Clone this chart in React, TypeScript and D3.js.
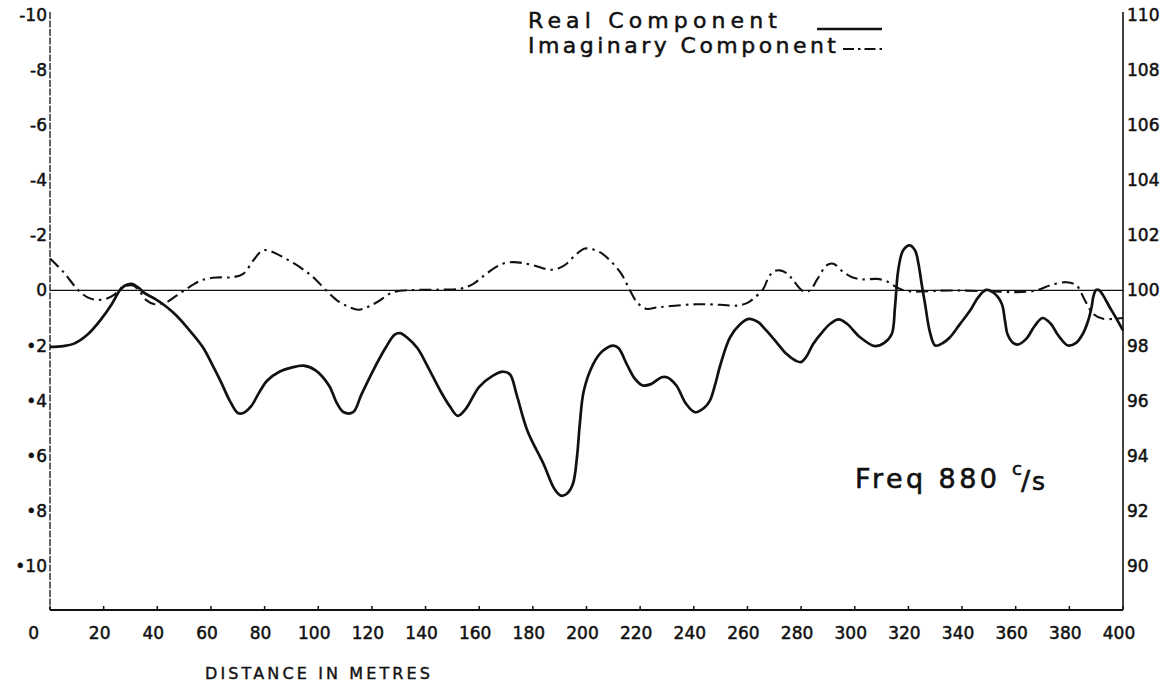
import React from "react";
import * as d3 from "d3";

const W = 1162;
const H = 685;

// distance (m), value (positive = downward on left scale)
const realComponent: [number, number][] = [
  [0, 2.05], [5, 2.02], [9, 1.93], [14, 1.6], [19, 1.05], [23, 0.5], [26, 0.0], [28, -0.18], [30.5, -0.24],
  [33, -0.1], [35, 0.08], [39, 0.3], [43.5, 0.6], [47, 0.9], [51, 1.33], [57, 2.06], [60, 2.6], [63.5, 3.27],
  [67, 4.0], [70, 4.45], [72, 4.45], [75, 4.2], [78, 3.7], [81, 3.27], [85.5, 2.95], [90, 2.8], [94.5, 2.73],
  [99, 2.9], [104, 3.45], [107, 4.1], [109.5, 4.42], [113, 4.42], [116, 3.8], [120.5, 2.9], [125, 2.1],
  [128.5, 1.6], [130.5, 1.55], [133, 1.7], [137, 2.1], [141, 2.8], [145.5, 3.64], [149, 4.2], [152, 4.55],
  [155, 4.3], [160, 3.5], [165, 3.1], [169, 2.95], [171.5, 3.05], [174, 3.8], [178, 5.1], [184, 6.3],
  [188, 7.2], [190.5, 7.45], [193, 7.35], [195, 7.0], [196.5, 6.0], [197.5, 4.85], [199, 3.64], [202.5, 2.67],
  [206, 2.2], [210, 2.0], [212, 2.1], [215, 2.67], [218, 3.2], [221, 3.45], [224, 3.4], [228, 3.15],
  [230, 3.15], [233.5, 3.45], [237, 4.1], [240.5, 4.42], [244, 4.25], [246, 4.0], [248, 3.4], [250, 2.67],
  [253.5, 1.7], [257, 1.25], [260.5, 1.03], [264, 1.15], [267, 1.45], [271, 1.9], [274.5, 2.3], [278, 2.55],
  [280, 2.6], [282, 2.4], [284.5, 1.94], [288, 1.5], [291, 1.2], [294, 1.05], [297, 1.2], [302, 1.7],
  [307.5, 2.02], [311, 1.9], [313.8, 1.58], [315, 0.6], [316.2, -0.73], [318, -1.45], [320.5, -1.64],
  [322.5, -1.45], [323.7, -1.0], [325, -0.2], [326.2, 0.48], [328, 1.5], [330, 2.0], [333, 1.9],
  [335.5, 1.7], [339, 1.25], [343, 0.73], [346, 0.25], [349, -0.02], [352, 0.1], [354.8, 0.48], [356, 1.1],
  [357, 1.6], [359, 1.9], [361, 1.96], [364, 1.75], [367, 1.3], [370, 1.0], [373, 1.2], [376, 1.65],
  [379.5, 2.0], [382.5, 1.9], [385, 1.58], [387, 1.1], [388.3, 0.6], [389, 0.2], [390, -0.02], [391, -0.02],
  [392.6, 0.18], [395, 0.6], [397.6, 1.03], [400, 1.45],
];

const imaginaryComponent: [number, number][] = [
  [0, -1.16], [5, -0.67], [10.6, 0.0], [14, 0.25], [17.4, 0.34], [21, 0.3], [24, 0.15], [27, -0.12],
  [31, -0.18], [33.5, 0.05], [36, 0.36], [39, 0.5], [43.5, 0.42], [47, 0.2], [50, 0.0], [54, -0.25],
  [57, -0.39], [62, -0.47], [68, -0.48], [72, -0.6], [75.8, -1.09], [78.5, -1.4], [80.5, -1.47],
  [83.2, -1.39], [87, -1.2], [91, -0.98], [95.7, -0.67], [99, -0.4], [103, 0.0], [107, 0.36], [111, 0.58],
  [115, 0.7], [118, 0.62], [122, 0.42], [128, 0.06], [136.7, -0.02], [145, -0.03], [153, -0.06],
  [157.8, -0.24], [161, -0.48], [165.3, -0.79], [169, -0.98], [172.7, -1.03], [176, -1.0], [180.2, -0.91],
  [184, -0.8], [187, -0.75], [190, -0.82], [192.6, -0.97], [196, -1.3], [199.4, -1.52], [202, -1.5],
  [205, -1.39], [208.8, -1.09], [213, -0.6], [216.2, 0.0], [219, 0.45], [222.4, 0.67], [226, 0.62],
  [230, 0.58], [241, 0.5], [250, 0.52], [256, 0.55], [260, 0.45], [262.2, 0.3], [265.9, -0.06], [268, -0.5],
  [270, -0.7], [272.1, -0.73], [275, -0.6], [277.1, -0.36], [280.8, 0.03], [283.3, 0.0], [286, -0.4],
  [289.5, -0.91], [292, -0.97], [295.7, -0.67], [299, -0.48], [303.2, -0.4], [308.2, -0.42], [311.8, -0.34],
  [315.6, -0.12], [319.3, 0.02], [335.5, 0.0], [350.4, 0.03], [360.3, 0.06], [367.7, 0.0], [372.7, -0.18],
  [378.9, -0.3], [382.7, -0.18], [385.8, 0.36], [388.9, 0.85], [392.6, 1.03], [400, 1.0],
];

const xTicks = d3.range(0, 401, 20);
const leftTicks = d3.range(-10, 11, 2);
const rightTicks = d3.range(90, 111, 2);

const FONT = "'DejaVu Sans', sans-serif";

export default function App() {
  const x = d3.scaleLinear().domain([0, 400]).range([50, 1123]);
  const y = d3.scaleLinear().domain([-10, 11.6]).range([15, 610]);
  const yR = d3.scaleLinear().domain([110, 88.4]).range([15, 610]);

  const line = d3
    .line<[number, number]>()
    .x((d) => x(d[0]))
    .y((d) => y(d[1]))
    .curve(d3.curveCatmullRom.alpha(0.5));

  const leftLabel = (v: number) => (v < 0 ? `-${-v}` : v === 0 ? "0" : `•${v}`);

  return (
    <svg width={W} height={H} style={{ position: "absolute", left: 0, top: 0, background: "#fff" }}>
      <rect x={0} y={0} width={W} height={H} fill="#fff" />
      {/* axes */}
      <line x1={x(0)} x2={x(0)} y1={y(-10) - 3} y2={y(11.6)} stroke="#222" strokeWidth={1.4} strokeDasharray="7 1.5" />
      <line x1={x(400)} x2={x(400)} y1={y(-10) - 3} y2={y(11.6)} stroke="#111" strokeWidth={1.6} />
      <line x1={x(0)} x2={x(400)} y1={y(11.6)} y2={y(11.6)} stroke="#111" strokeWidth={2} />
      {xTicks.map((t) => (
        <line key={t} x1={x(t)} x2={x(t)} y1={y(11.6)} y2={y(11.6) - 4} stroke="#111" strokeWidth={1.5} />
      ))}
      {/* zero line */}
      <line x1={x(0)} x2={x(400)} y1={y(0)} y2={y(0)} stroke="#111" strokeWidth={1.3} />

      {/* tick labels */}
      <g fontFamily={FONT} fontSize={17} fill="#111" stroke="#111" strokeWidth={0.5}>
        {xTicks.map((t) => (
          <text key={t} x={t === 0 ? x(t) - 11 : x(t) - 4} y={639} textAnchor={t === 0 ? "end" : "middle"}>
            {t}
          </text>
        ))}
        {leftTicks.map((t) => (
          <text key={t} x={x(0) - 3} y={y(t) + 6} textAnchor="end">
            {leftLabel(t)}
          </text>
        ))}
        {rightTicks.map((t) => (
          <text key={t} x={x(400) + 4} y={yR(t) + 6} textAnchor="start">
            {t}
          </text>
        ))}
      </g>

      <text x={205} y={679} fontFamily={FONT} fontSize={16} fill="#111" stroke="#111" strokeWidth={0.4} textLength={225} lengthAdjust="spacing">
        DISTANCE IN METRES
      </text>

      {/* curves */}
      <path d={line(imaginaryComponent) || ""} fill="none" stroke="#111" strokeWidth={2.1} strokeDasharray="12 5 2.5 5" />
      <path d={line(realComponent) || ""} fill="none" stroke="#111" strokeWidth={2.7} strokeLinejoin="round" />

      {/* legend */}
      <g fontFamily={FONT} fontSize={22} fill="#111" stroke="#111" strokeWidth={0.5}>
        <text x={528} y={28} textLength={249} lengthAdjust="spacing">Real Component</text>
        <text x={528} y={53} textLength={308} lengthAdjust="spacing">Imaginary Component</text>
      </g>
      <line x1={817} x2={882} y1={29} y2={29} stroke="#111" strokeWidth={2.6} />
      <line x1={843} x2={885} y1={49} y2={49} stroke="#111" strokeWidth={2.2} strokeDasharray="11 4 2.5 4" />

      {/* frequency annotation */}
      <g fontFamily={FONT} fill="#111" stroke="#111" strokeWidth={0.6}>
        <text x={855} y={488} fontSize={27} textLength={142} lengthAdjust="spacing">Freq 880</text>
        <text x={1012} y={475} fontSize={18}>c</text>
        <text x={1021} y={490} fontSize={27}>/</text>
        <text x={1032} y={490} fontSize={25}>s</text>
      </g>
    </svg>
  );
}
